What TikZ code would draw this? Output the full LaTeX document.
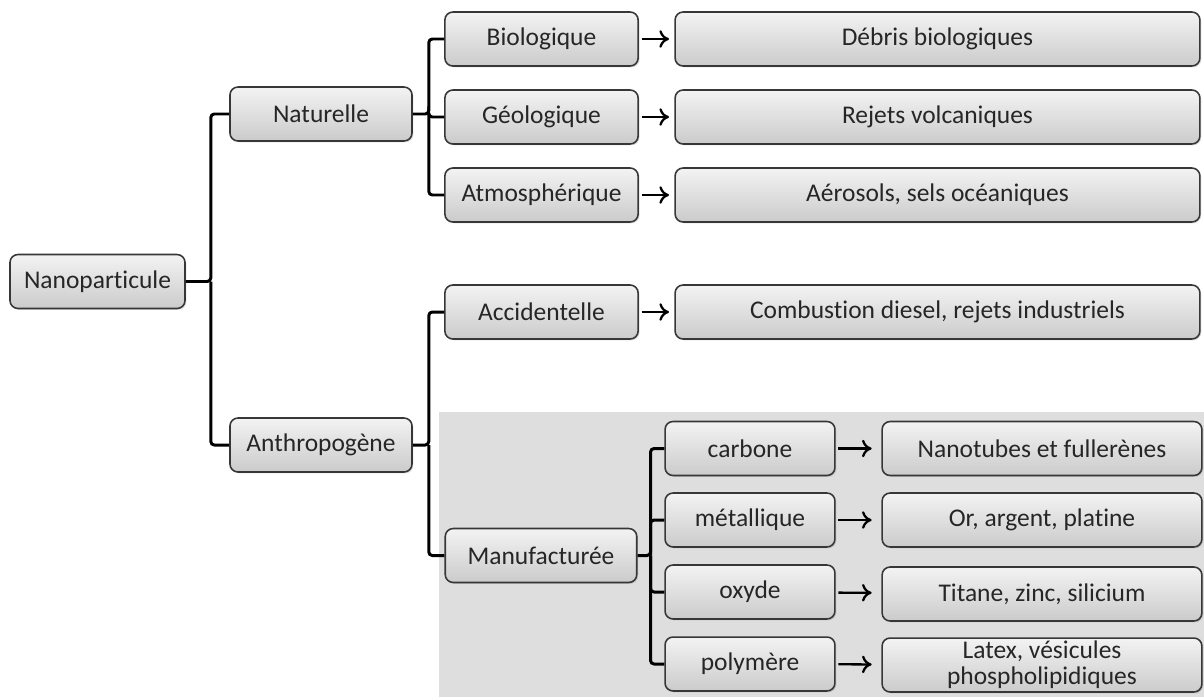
\documentclass[tikz,border=0pt]{standalone}
\usepackage{fontspec}
\setmainfont[RawFeature={-liga;-clig;-dlig;-calt}]{Carlito}
\usetikzlibrary{shadows,arrows.meta}
\definecolor{boxtop}{RGB}{243,243,243}
\definecolor{boxbot}{RGB}{203,203,203}
\definecolor{boxline}{RGB}{55,55,55}
\definecolor{manufbg}{RGB}{222,222,222}

\begin{document}
\begin{tikzpicture}[x=0.02cm,y=-0.02cm,
  cat/.style={draw=boxline, line width=0.9pt, rounded corners=4.5pt,
    top color=boxtop, bottom color=boxbot, minimum height=30.7pt,
    inner sep=1pt, align=center, text=black!85,
    font=\fontsize{14.5}{14.8}\selectfont,
    drop shadow={shadow xshift=0.8pt, shadow yshift=-0.8pt, opacity=0.25}},
  bracket/.style={line width=1.7pt, rounded corners=2pt},
  arr/.style={-{To[length=5.5pt,width=10pt,line width=1.3pt]}, line width=1.3pt, shorten <=1.5pt}]
\useasboundingbox (0,0) rectangle (1204,697);
\fill[manufbg] (439,412) rectangle (1204,697);

\node [cat, minimum width=99.6pt] (nano) at (97.5,281.5) {Nanoparticule};
\node [cat, minimum width=103.6pt] (nat) at (321,114) {Naturelle};
\node [cat, minimum width=103.6pt] (anth) at (321,445) {Anthropogène};

\node [cat, minimum width=110pt] (bio) at (541.5,39) {Biologique};
\node [cat, minimum width=110pt] (geo) at (541.5,117) {Géologique};
\node [cat, minimum width=110pt] (atm) at (541.5,195) {Atmosphérique};
\node [cat, minimum width=110pt] (acc) at (541.5,312) {Accidentelle};
\node [cat, minimum width=109pt] (manu) at (541,555.5) {Manufacturée};

\node [cat, minimum width=298.7pt] (deb) at (937.5,39) {Débris biologiques};
\node [cat, minimum width=298.7pt] (volc) at (937.5,117) {Rejets volcaniques};
\node [cat, minimum width=298.7pt] (aer) at (937.5,195) {Aérosols, sels océaniques};
\node [cat, minimum width=298.7pt] (comb) at (937.5,312) {Combustion diesel, rejets industriels};

\node [cat, minimum width=96.7pt] (carb) at (750,448.5) {carbone};
\node [cat, minimum width=96.7pt] (met) at (750,520) {métallique};
\node [cat, minimum width=96.7pt] (oxy) at (750,592) {oxyde};
\node [cat, minimum width=96.7pt] (poly) at (750,664) {polymère};

\node [cat, minimum width=182pt] (tube) at (1042,448.5) {Nanotubes et fullerènes};
\node [cat, minimum width=182pt] (orarg) at (1042,520) {Or, argent, platine};
\node [cat, minimum width=182pt] (tit) at (1042,594) {Titane, zinc, silicium};
\node [cat, minimum width=182pt] (lat) at (1042,665) {Latex, vésicules\\phospholipidiques};

\draw [bracket] (nano.east) -- ++(25,0) coordinate (b1) |- (nat.west);
\draw [bracket] (b1) |- (anth.west);
\draw [bracket] (nat.east) -- ++(16,0) coordinate (b2) |- (bio.west);
\draw [bracket] (b2) |- (atm.west);
\draw [bracket] (b2) |- (geo.west);
\draw [bracket] (anth.east) -- ++(16,0) coordinate (b3) |- (acc.west);
\draw [bracket] (b3) |- (manu.west);
\draw [bracket] (manu.east) -- ++(13,0) coordinate (b4) |- (carb.west);
\draw [bracket] (b4) |- (poly.west);
\draw [bracket] (b4) |- (met.west);
\draw [bracket] (b4) |- (oxy.west);

\draw [arr, shorten >=3pt] (bio) -- (deb);
\draw [arr, shorten >=3pt] (geo) -- (volc);
\draw [arr, shorten >=3pt] (atm) -- (aer);
\draw [arr, shorten >=3pt] (acc) -- (comb);
\draw [arr, shorten >=5.5pt] (carb) -- (tube);
\draw [arr, shorten >=5.5pt] (met) -- (orarg);
\draw [arr, shorten >=5.5pt] (oxy) -- (tit);
\draw [arr, shorten >=5.5pt] (poly) -- (lat);
\end{tikzpicture}
\end{document}
